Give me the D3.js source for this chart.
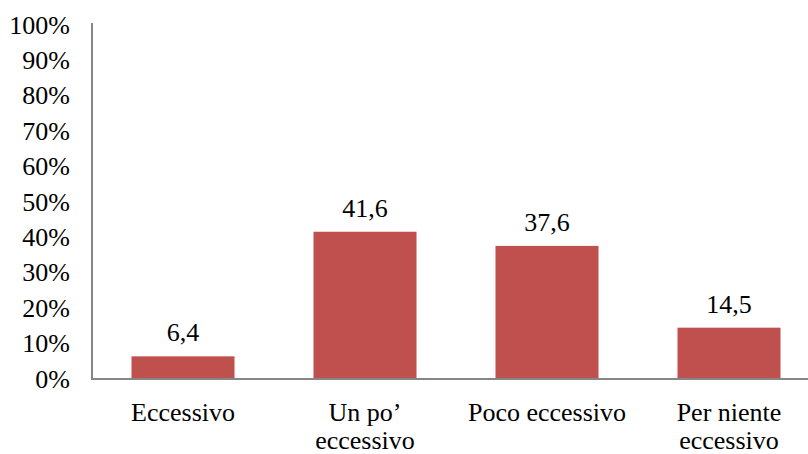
<!DOCTYPE html>
<html>
<head>
<meta charset="utf-8">
<script src="https://cdn.jsdelivr.net/npm/d3@7"></script>
<style>
  html, body { margin: 0; padding: 0; background: #fff; }
  svg { display: block; }
</style>
</head>
<body>
<svg id="chart" width="808" height="454"></svg>
<script>
// Category labels (each inner array is one wrapped label)
const categories = [
  ["Eccessivo"],
  ["Un po\u2019", "eccessivo"],
  ["Poco eccessivo"],
  ["Per niente", "eccessivo"]
];
const values = [6.4, 41.6, 37.6, 14.5];
const valueLabels = ["6,4", "41,6", "37,6", "14,5"];
const yTicks = [0, 10, 20, 30, 40, 50, 60, 70, 80, 90, 100];

const svg = d3.select("#chart");
const plotLeft = 92, plotRight = 820, plotTop = 25, plotBottom = 379;
const fontSize = 26;
const fontFamily = "Liberation Serif";

// Shared text styling
function serif(sel) {
  sel.attr("font-family", fontFamily)
    .style("font-family", fontFamily)
    .attr("font-size", fontSize)
    .attr("fill", "#000");
}

const x = d3.scaleBand()
  .domain(d3.range(values.length))
  .range([plotLeft, plotRight])
  .paddingInner(0.434)
  .paddingOuter(0.217);

const y = d3.scaleLinear().domain([0, 100]).range([plotBottom, plotTop]);

// Y tick labels
svg.append("g")
  .selectAll("text")
  .data(yTicks)
  .join("text")
  .attr("x", 70)
  .attr("y", d => y(d) + 8.5)
  .attr("text-anchor", "end")
  .call(serif)
  .text(d => d + "%");

// Bars
svg.append("g")
  .selectAll("rect")
  .data(values)
  .join("rect")
  .attr("x", (d, i) => x(i))
  .attr("width", x.bandwidth())
  .attr("y", d => y(d))
  .attr("height", d => y(0) - y(d))
  .attr("fill", "#C0504D");

// Value labels
svg.append("g")
  .selectAll("text")
  .data(values)
  .join("text")
  .attr("x", (d, i) => x(i) + x.bandwidth() / 2)
  .attr("y", d => y(d) - 15)
  .attr("text-anchor", "middle")
  .call(serif)
  .text((d, i) => valueLabels[i]);

// Axis lines
const axisColor = "#868686";
svg.append("line")
  .attr("x1", plotLeft).attr("x2", plotLeft)
  .attr("y1", 23).attr("y2", plotBottom)
  .attr("stroke", axisColor).attr("stroke-width", 2);
svg.append("line")
  .attr("x1", plotLeft - 1).attr("x2", 808)
  .attr("y1", plotBottom).attr("y2", plotBottom)
  .attr("stroke", axisColor).attr("stroke-width", 2);

// Category labels
const cat = svg.append("g")
  .selectAll("text")
  .data(categories)
  .join("text")
  .attr("x", (d, i) => x(i) + x.bandwidth() / 2)
  .attr("y", 421)
  .attr("text-anchor", "middle")
  .call(serif);
cat.selectAll("tspan")
  .data(d => d)
  .join("tspan")
  .attr("x", function () { return d3.select(this.parentNode).attr("x"); })
  .attr("dy", (d, i) => i === 0 ? 0 : 28)
  .text(d => d);
</script>
</body>
</html>
